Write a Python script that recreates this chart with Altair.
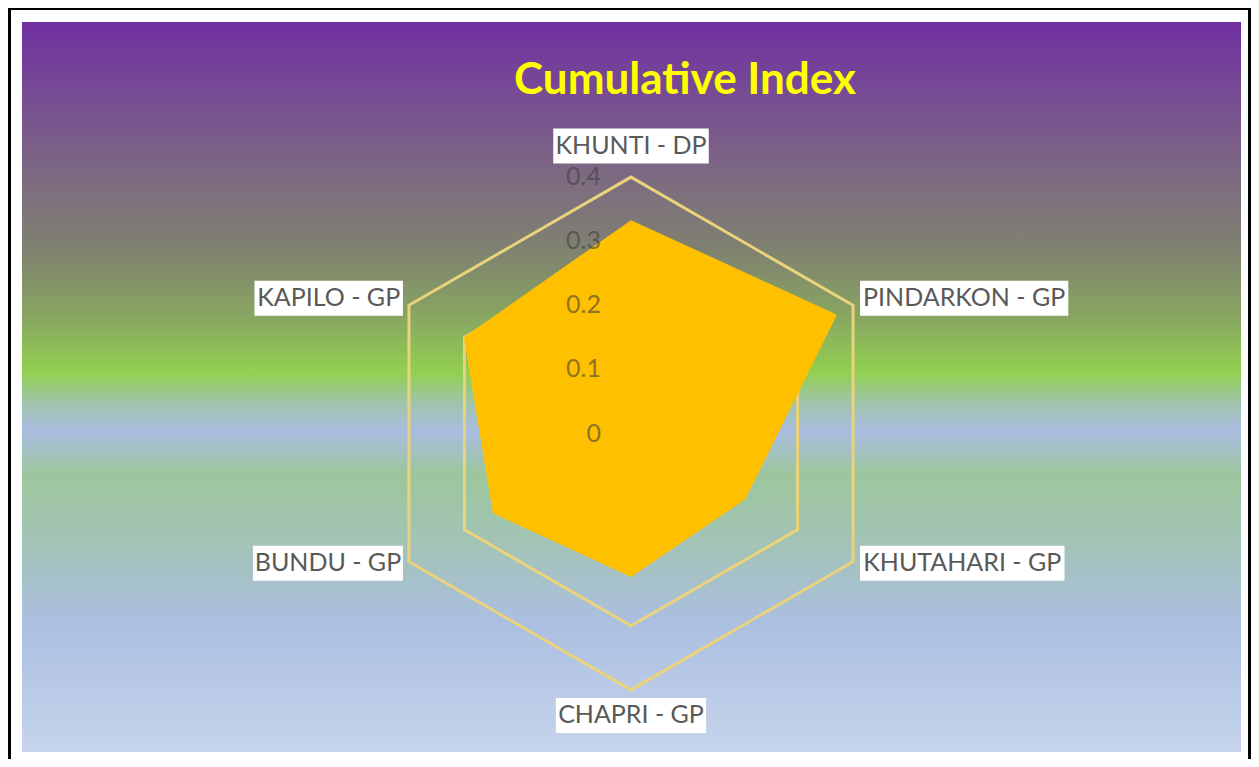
import math
import altair as alt
import pandas as pd

# ---------------- data ----------------
categories = ["KHUNTI - DP", "PINDARKON - GP", "KHUTAHARI - GP",
              "CHAPRI - GP", "BUNDU - GP", "KAPILO - GP"]
values = [0.332, 0.370, 0.205, 0.223, 0.248, 0.300]
grid_levels = [0.1, 0.2, 0.3, 0.4]
tick_values = [0, 0.1, 0.2, 0.3, 0.4]
tick_labels = ["0", "0.1", "0.2", "0.3", "0.4"]
title_text = "Cumulative Index"

# ---------------- layout ----------------
W, H = 1243, 751
CX, CY = 623.0, 425.5      # radar centre (px within chart)
PX = 641.0                 # pixels per data unit
R_MAX = max(grid_levels)
FONT = "Lato"
LABEL_SIZE = 25

x_scale = alt.Scale(domain=[-CX / PX, (W - CX) / PX], nice=False, zero=False)
y_scale = alt.Scale(domain=[-(H - CY) / PX, CY / PX], nice=False, zero=False)

n = len(categories)
angles = [math.radians(90 - i * 360 / n) for i in range(n)]

# approximate Lato advance widths (em) for box sizing
CW = {"A": .68, "B": .64, "C": .66, "D": .75, "G": .72, "H": .76, "I": .29,
      "K": .67, "L": .51, "N": .76, "O": .80, "P": .60, "R": .63, "T": .59,
      "U": .73, " ": .19, "-": .37}


def text_width(s):
    return sum(CW.get(c, .6) for c in s) * LABEL_SIZE


# polygon
poly = pd.DataFrame({
    "i": list(range(n)),
    "cat": categories,
    "x": [v * math.cos(a) for v, a in zip(values, angles)],
    "y": [v * math.sin(a) for v, a in zip(values, angles)],
})

# grid hexagons
grid_rows = []
for lv in grid_levels:
    for i, a in enumerate(angles):
        grid_rows.append({"level": lv, "i": i, "x": lv * math.cos(a), "y": lv * math.sin(a)})
grid = pd.DataFrame(grid_rows)

# tick labels
ticks = pd.DataFrame({"v": tick_values, "label": tick_labels, "x": [0.0] * len(tick_values)})

# category labels with boxes
lab_rows = []
for cat, a in zip(categories, angles):
    vx, vy = R_MAX * math.cos(a), R_MAX * math.sin(a)
    w = text_width(cat) + 8
    h = 35
    c = math.cos(a)
    s = math.sin(a)
    if abs(c) < 0.1:
        dxp = 0
        dyp = 31 if s > 0 else -25.5
    else:
        dxp = (7 + w / 2) if c > 0 else -(6 + w / 2)
        dyp = 7 if s > 0 else -1.5
    cx = vx + dxp / PX
    cy = vy + dyp / PX
    lab_rows.append({"cat": cat, "x": cx, "y": cy,
                     "x1": cx - w / 2 / PX, "x2": cx + w / 2 / PX,
                     "y1": cy - h / 2 / PX, "y2": cy + h / 2 / PX})
labels = pd.DataFrame(lab_rows)

# ---------------- layers ----------------
gradient = alt.LinearGradient(
    gradient="linear", x1=0, y1=0, x2=0, y2=1,
    stops=[
        alt.GradientStop(offset=0.0, color="#7030A0"),
        alt.GradientStop(offset=0.10, color="#774C94"),
        alt.GradientStop(offset=0.22, color="#7D6C80"),
        alt.GradientStop(offset=0.31, color="#7F8170"),
        alt.GradientStop(offset=0.40, color="#88A462"),
        alt.GradientStop(offset=0.48, color="#92D050"),
        alt.GradientStop(offset=0.52, color="#A0C4A8"),
        alt.GradientStop(offset=0.56, color="#A9BDE0"),
        alt.GradientStop(offset=0.62, color="#9DC69C"),
        alt.GradientStop(offset=0.72, color="#A3C3B8"),
        alt.GradientStop(offset=0.82, color="#ABBFE0"),
        alt.GradientStop(offset=1.0, color="#C6D4EC"),
    ],
)

one = pd.DataFrame({"k": [0]})

frame = alt.Chart(one).mark_rect(fill="white", stroke="black", strokeWidth=4).encode(
    x=alt.value(1), x2=alt.value(W - 1), y=alt.value(0), y2=alt.value(H + 20)
)

bg = alt.Chart(one).mark_rect(fill=gradient).encode(
    x=alt.value(14), x2=alt.value(1233), y=alt.value(14), y2=alt.value(744)
)

title = alt.Chart(one).mark_text(
    text=title_text, font=FONT, fontWeight="bold", fontSize=44, color="#FFFF00",
    align="center", baseline="alphabetic"
).encode(x=alt.value(677), y=alt.value(86))

grid_layer = alt.Chart(grid).mark_line(
    interpolate="linear-closed", stroke="#EBD37C", strokeWidth=3
).encode(
    x=alt.X("x:Q", scale=x_scale, axis=None),
    y=alt.Y("y:Q", scale=y_scale, axis=None),
    detail="level:N",
    order="i:Q",
)

poly_layer = alt.Chart(poly).mark_line(
    interpolate="linear-closed", fill="#FFC000", stroke="#FFC000", strokeWidth=1
).encode(
    x=alt.X("x:Q", scale=x_scale, axis=None),
    y=alt.Y("y:Q", scale=y_scale, axis=None),
    order="i:Q",
)

tick_layer = alt.Chart(ticks).mark_text(
    align="right", baseline="middle", dx=-30, font=FONT, fontSize=25,
    color="#404040", opacity=0.6
).encode(
    x=alt.X("x:Q", scale=x_scale, axis=None),
    y=alt.Y("v:Q", scale=y_scale, axis=None),
    text="label:N",
)

box_layer = alt.Chart(labels).mark_rect(fill="white").encode(
    x=alt.X("x1:Q", scale=x_scale, axis=None), x2="x2:Q",
    y=alt.Y("y1:Q", scale=y_scale, axis=None), y2="y2:Q",
)

label_layer = alt.Chart(labels).mark_text(
    align="center", baseline="middle", font=FONT, fontSize=LABEL_SIZE, color="#595959"
).encode(
    x=alt.X("x:Q", scale=x_scale, axis=None),
    y=alt.Y("y:Q", scale=y_scale, axis=None),
    text="cat:N",
)

chart = alt.layer(
    frame, bg, title, grid_layer, poly_layer, tick_layer, box_layer, label_layer
).properties(
    width=W, height=H, padding=0,
    autosize=alt.AutoSizeParams(type="none"),
    background="white",
).configure_view(stroke=None)

chart.save("out.html", embed_options={"renderer": "svg", "actions": False})
